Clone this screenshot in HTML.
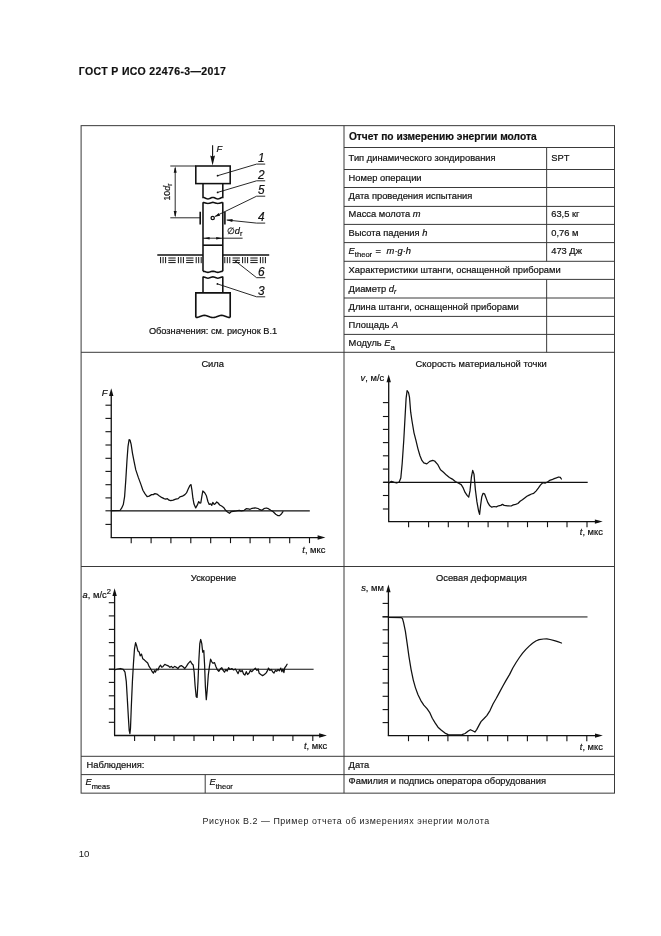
<!DOCTYPE html>
<html lang="ru">
<head>
<meta charset="utf-8">
<title>ГОСТ Р ИСО 22476-3—2017</title>
<style>
html,body{margin:0;padding:0;background:#fff;}
body{width:661px;height:936px;position:relative;overflow:hidden;font-family:"Liberation Sans",sans-serif;color:#111;}
#page{position:absolute;left:0;top:0;width:661px;height:936px;will-change:transform;filter:grayscale(1);}
.t{position:absolute;white-space:nowrap;font-size:9.35px;color:#111;-webkit-text-stroke:0.2px #111;}
.t i{font-style:italic;}
.sub{position:relative;}
svg{position:absolute;left:0;top:0;}
svg text{font-family:"Liberation Sans",sans-serif;fill:#111;stroke:#111;stroke-width:0.2px;}
</style>
</head>
<body>
<div id="page">
<svg width="661" height="936" viewBox="0 0 661 936">
<rect x="81.1" y="125.65" width="533.4" height="667.5" fill="none" stroke="#3a3a3a" stroke-width="1.0"/>
<line x1="344.0" y1="125.65" x2="344.0" y2="793.15" stroke="#3a3a3a" stroke-width="1.0"/>
<line x1="344.0" y1="147.5" x2="614.5" y2="147.5" stroke="#3a3a3a" stroke-width="1.0"/>
<line x1="344.0" y1="169.5" x2="614.5" y2="169.5" stroke="#3a3a3a" stroke-width="1.0"/>
<line x1="344.0" y1="187.5" x2="614.5" y2="187.5" stroke="#3a3a3a" stroke-width="1.0"/>
<line x1="344.0" y1="206.4" x2="614.5" y2="206.4" stroke="#3a3a3a" stroke-width="1.0"/>
<line x1="344.0" y1="224.4" x2="614.5" y2="224.4" stroke="#3a3a3a" stroke-width="1.0"/>
<line x1="344.0" y1="242.6" x2="614.5" y2="242.6" stroke="#3a3a3a" stroke-width="1.0"/>
<line x1="344.0" y1="261.3" x2="614.5" y2="261.3" stroke="#3a3a3a" stroke-width="1.0"/>
<line x1="344.0" y1="279.4" x2="614.5" y2="279.4" stroke="#3a3a3a" stroke-width="1.0"/>
<line x1="344.0" y1="298.0" x2="614.5" y2="298.0" stroke="#3a3a3a" stroke-width="1.0"/>
<line x1="344.0" y1="316.4" x2="614.5" y2="316.4" stroke="#3a3a3a" stroke-width="1.0"/>
<line x1="344.0" y1="334.4" x2="614.5" y2="334.4" stroke="#3a3a3a" stroke-width="1.0"/>
<line x1="81.1" y1="352.3" x2="614.5" y2="352.3" stroke="#3a3a3a" stroke-width="1.0"/>
<line x1="81.1" y1="566.5" x2="614.5" y2="566.5" stroke="#3a3a3a" stroke-width="1.0"/>
<line x1="81.1" y1="756.3" x2="614.5" y2="756.3" stroke="#3a3a3a" stroke-width="1.0"/>
<line x1="81.1" y1="774.6" x2="614.5" y2="774.6" stroke="#3a3a3a" stroke-width="1.0"/>
<line x1="546.65" y1="147.5" x2="546.65" y2="261.3" stroke="#3a3a3a" stroke-width="1.0"/>
<line x1="546.65" y1="279.4" x2="546.65" y2="352.3" stroke="#3a3a3a" stroke-width="1.0"/>
<line x1="205.2" y1="774.6" x2="205.2" y2="793.15" stroke="#3a3a3a" stroke-width="1.0"/>
<line x1="111.25" y1="392.2" x2="111.25" y2="537.55" stroke="#111" stroke-width="1.3"/>
<line x1="110.65" y1="537.55" x2="321.4" y2="537.55" stroke="#111" stroke-width="1.3"/>
<polygon points="111.25,388.2 109.05,396.0 113.45,396.0" fill="#111"/>
<polygon points="325.4,537.55 317.59999999999997,535.3499999999999 317.59999999999997,539.75" fill="#111"/>
<line x1="105.45" y1="405.2" x2="111.25" y2="405.2" stroke="#111" stroke-width="1.1"/>
<line x1="105.45" y1="418.4" x2="111.25" y2="418.4" stroke="#111" stroke-width="1.1"/>
<line x1="105.45" y1="431.7" x2="111.25" y2="431.7" stroke="#111" stroke-width="1.1"/>
<line x1="105.45" y1="445.0" x2="111.25" y2="445.0" stroke="#111" stroke-width="1.1"/>
<line x1="105.45" y1="458.3" x2="111.25" y2="458.3" stroke="#111" stroke-width="1.1"/>
<line x1="105.45" y1="471.4" x2="111.25" y2="471.4" stroke="#111" stroke-width="1.1"/>
<line x1="105.45" y1="484.7" x2="111.25" y2="484.7" stroke="#111" stroke-width="1.1"/>
<line x1="105.45" y1="497.9" x2="111.25" y2="497.9" stroke="#111" stroke-width="1.1"/>
<line x1="105.45" y1="510.8" x2="111.25" y2="510.8" stroke="#111" stroke-width="1.1"/>
<line x1="105.45" y1="524.4" x2="111.25" y2="524.4" stroke="#111" stroke-width="1.1"/>
<line x1="131.2" y1="537.55" x2="131.2" y2="543.15" stroke="#111" stroke-width="1.1"/>
<line x1="151.1" y1="537.55" x2="151.1" y2="543.15" stroke="#111" stroke-width="1.1"/>
<line x1="170.9" y1="537.55" x2="170.9" y2="543.15" stroke="#111" stroke-width="1.1"/>
<line x1="190.8" y1="537.55" x2="190.8" y2="543.15" stroke="#111" stroke-width="1.1"/>
<line x1="210.7" y1="537.55" x2="210.7" y2="543.15" stroke="#111" stroke-width="1.1"/>
<line x1="230.5" y1="537.55" x2="230.5" y2="543.15" stroke="#111" stroke-width="1.1"/>
<line x1="250.1" y1="537.55" x2="250.1" y2="543.15" stroke="#111" stroke-width="1.1"/>
<line x1="269.8" y1="537.55" x2="269.8" y2="543.15" stroke="#111" stroke-width="1.1"/>
<line x1="289.7" y1="537.55" x2="289.7" y2="543.15" stroke="#111" stroke-width="1.1"/>
<line x1="309.5" y1="537.55" x2="309.5" y2="543.15" stroke="#111" stroke-width="1.1"/>
<line x1="111.0" y1="510.8" x2="309.8" y2="510.8" stroke="#111" stroke-width="1.35"/>
<polyline points="111.3,510.7 120.0,510.5 121.6,508.2 123.3,504.6 124.6,496.6 125.8,479.9 127.0,460.0 128.0,446.6 129.1,439.7 130.0,440.0 131.1,444.1 132.5,453.3 134.1,461.6 135.8,469.9 138.3,477.4 140.8,484.1 142.9,490.2 144.9,493.6 147.1,496.6 149.1,496.1 151.6,494.6 153.3,494.6 154.9,493.6 156.9,494.1 159.1,495.7 161.6,497.4 164.1,498.6 165.7,499.2 167.4,498.7 169.1,500.2 170.7,500.7 173.2,500.2 175.7,499.2 178.2,498.6 179.9,496.9 182.4,496.2 184.9,494.6 186.5,492.9 188.2,489.1 189.9,485.4 191.0,484.6 191.9,489.9 192.9,498.2 194.0,504.1 195.7,507.9 197.4,504.9 198.7,501.6 199.9,503.2 200.8,502.9 201.8,496.6 202.8,491.0 204.7,492.8 206.4,495.8 207.9,501.5 209.2,504.4 210.8,503.8 211.8,505.4 212.8,502.4 214.2,504.4 215.3,503.8 216.7,501.9 218.1,503.0 219.7,505.0 221.6,506.0 223.6,507.4 225.6,510.3 227.5,511.9 229.5,513.3 231.1,511.7 233.4,511.3 236.4,510.9 239.3,510.3 241.3,510.9 244.2,510.3 246.2,508.7 248.2,508.9 250.1,509.3 252.1,508.3 255.1,507.8 258.0,508.5 260.0,509.7 261.9,510.3 263.9,508.7 266.3,508.0 268.4,508.7 270.8,510.3 273.2,511.7 275.7,514.2 277.7,515.6 279.6,515.6 281.6,513.7 283.0,511.7" fill="none" stroke="#111" stroke-width="1.25" stroke-linejoin="round" stroke-linecap="round"/>
<text x="212.7" y="366.6" font-size="9.35" text-anchor="middle" >Сила</text>
<text x="101.7" y="396.2" font-size="9.35" font-style="italic" text-anchor="start" >F</text>
<text x="302.3" y="552.9" font-size="9.35" text-anchor="start" ><tspan font-style="italic">t</tspan>, мкс</text>
<line x1="388.7" y1="378.4" x2="388.7" y2="521.6" stroke="#111" stroke-width="1.3"/>
<line x1="388.09999999999997" y1="521.6" x2="598.7" y2="521.6" stroke="#111" stroke-width="1.3"/>
<polygon points="388.7,374.4 386.5,382.2 390.9,382.2" fill="#111"/>
<polygon points="602.7,521.6 594.9000000000001,519.4 594.9000000000001,523.8000000000001" fill="#111"/>
<line x1="382.9" y1="402.6" x2="388.7" y2="402.6" stroke="#111" stroke-width="1.1"/>
<line x1="382.9" y1="416.5" x2="388.7" y2="416.5" stroke="#111" stroke-width="1.1"/>
<line x1="382.9" y1="429.4" x2="388.7" y2="429.4" stroke="#111" stroke-width="1.1"/>
<line x1="382.9" y1="442.6" x2="388.7" y2="442.6" stroke="#111" stroke-width="1.1"/>
<line x1="382.9" y1="455.8" x2="388.7" y2="455.8" stroke="#111" stroke-width="1.1"/>
<line x1="382.9" y1="469.1" x2="388.7" y2="469.1" stroke="#111" stroke-width="1.1"/>
<line x1="382.9" y1="482.3" x2="388.7" y2="482.3" stroke="#111" stroke-width="1.1"/>
<line x1="382.9" y1="495.5" x2="388.7" y2="495.5" stroke="#111" stroke-width="1.1"/>
<line x1="382.9" y1="509.0" x2="388.7" y2="509.0" stroke="#111" stroke-width="1.1"/>
<line x1="408.6" y1="521.6" x2="408.6" y2="527.2" stroke="#111" stroke-width="1.1"/>
<line x1="428.6" y1="521.6" x2="428.6" y2="527.2" stroke="#111" stroke-width="1.1"/>
<line x1="448.3" y1="521.6" x2="448.3" y2="527.2" stroke="#111" stroke-width="1.1"/>
<line x1="468.3" y1="521.6" x2="468.3" y2="527.2" stroke="#111" stroke-width="1.1"/>
<line x1="488.1" y1="521.6" x2="488.1" y2="527.2" stroke="#111" stroke-width="1.1"/>
<line x1="507.9" y1="521.6" x2="507.9" y2="527.2" stroke="#111" stroke-width="1.1"/>
<line x1="527.5" y1="521.6" x2="527.5" y2="527.2" stroke="#111" stroke-width="1.1"/>
<line x1="547.5" y1="521.6" x2="547.5" y2="527.2" stroke="#111" stroke-width="1.1"/>
<line x1="567.0" y1="521.6" x2="567.0" y2="527.2" stroke="#111" stroke-width="1.1"/>
<line x1="587.0" y1="521.6" x2="587.0" y2="527.2" stroke="#111" stroke-width="1.1"/>
<line x1="383.4" y1="482.3" x2="587.7" y2="482.3" stroke="#111" stroke-width="1.2"/>
<polyline points="388.8,483.0 391.4,481.4 394.3,482.4 396.7,483.0 399.2,482.0 400.8,478.1 402.2,463.3 403.8,439.7 405.1,416.1 406.1,398.4 407.1,390.6 408.5,392.5 409.5,397.4 410.7,412.2 412.0,421.0 414.0,432.8 416.0,440.7 417.9,448.6 419.9,455.5 421.9,460.4 423.8,462.9 426.8,463.9 429.7,461.4 432.7,460.4 434.6,461.0 437.6,464.3 440.5,469.8 443.5,472.2 446.4,475.1 449.4,477.5 452.3,479.1 455.3,481.6 458.2,483.0 461.2,484.6 463.2,487.9 465.1,492.4 467.1,495.4 468.7,497.2 470.0,490.9 471.4,477.1 472.7,470.4 474.0,474.1 475.4,489.9 476.9,501.7 478.5,510.5 479.6,514.4 480.5,506.2 481.8,496.7 483.1,493.3 484.5,493.8 486.1,497.9 487.7,502.4 489.5,505.4 491.8,507.2 494.0,506.5 496.3,506.9 498.6,505.8 500.8,505.4 502.4,504.4 504.2,505.4 507.7,505.8 511.1,506.0 513.3,504.9 515.6,504.4 517.9,503.5 520.1,501.3 522.4,499.7 524.7,497.9 526.9,496.3 529.2,495.1 531.5,494.0 533.7,493.3 536.0,491.1 538.3,488.1 540.6,484.9 542.8,482.7 545.1,483.1 547.4,482.0 549.6,480.4 551.9,479.7 554.2,478.6 556.4,477.9 558.7,477.0 560.3,477.4 561.4,479.0" fill="none" stroke="#111" stroke-width="1.25" stroke-linejoin="round" stroke-linecap="round"/>
<text x="481.2" y="366.6" font-size="9.35" text-anchor="middle" >Скорость материальной точки</text>
<text x="360.6" y="381.2" font-size="9.35" text-anchor="start" ><tspan font-style="italic">v</tspan>, м/с</text>
<text x="579.8" y="535.3" font-size="9.35" text-anchor="start" ><tspan font-style="italic">t</tspan>, мкс</text>
<line x1="114.6" y1="592.2" x2="114.6" y2="735.5" stroke="#111" stroke-width="1.3"/>
<line x1="114.0" y1="735.5" x2="322.9" y2="735.5" stroke="#111" stroke-width="1.3"/>
<polygon points="114.6,588.2 112.39999999999999,596.0 116.8,596.0" fill="#111"/>
<polygon points="326.9,735.5 319.09999999999997,733.3 319.09999999999997,737.7" fill="#111"/>
<line x1="108.8" y1="602.7" x2="114.6" y2="602.7" stroke="#111" stroke-width="1.1"/>
<line x1="108.8" y1="615.9" x2="114.6" y2="615.9" stroke="#111" stroke-width="1.1"/>
<line x1="108.8" y1="629.4" x2="114.6" y2="629.4" stroke="#111" stroke-width="1.1"/>
<line x1="108.8" y1="642.6" x2="114.6" y2="642.6" stroke="#111" stroke-width="1.1"/>
<line x1="108.8" y1="655.8" x2="114.6" y2="655.8" stroke="#111" stroke-width="1.1"/>
<line x1="108.8" y1="669.2" x2="114.6" y2="669.2" stroke="#111" stroke-width="1.1"/>
<line x1="108.8" y1="682.4" x2="114.6" y2="682.4" stroke="#111" stroke-width="1.1"/>
<line x1="108.8" y1="695.8" x2="114.6" y2="695.8" stroke="#111" stroke-width="1.1"/>
<line x1="108.8" y1="708.9" x2="114.6" y2="708.9" stroke="#111" stroke-width="1.1"/>
<line x1="108.8" y1="722.3" x2="114.6" y2="722.3" stroke="#111" stroke-width="1.1"/>
<line x1="134.6" y1="735.5" x2="134.6" y2="741.1" stroke="#111" stroke-width="1.1"/>
<line x1="154.7" y1="735.5" x2="154.7" y2="741.1" stroke="#111" stroke-width="1.1"/>
<line x1="174.0" y1="735.5" x2="174.0" y2="741.1" stroke="#111" stroke-width="1.1"/>
<line x1="194.0" y1="735.5" x2="194.0" y2="741.1" stroke="#111" stroke-width="1.1"/>
<line x1="213.6" y1="735.5" x2="213.6" y2="741.1" stroke="#111" stroke-width="1.1"/>
<line x1="233.6" y1="735.5" x2="233.6" y2="741.1" stroke="#111" stroke-width="1.1"/>
<line x1="253.3" y1="735.5" x2="253.3" y2="741.1" stroke="#111" stroke-width="1.1"/>
<line x1="273.2" y1="735.5" x2="273.2" y2="741.1" stroke="#111" stroke-width="1.1"/>
<line x1="292.9" y1="735.5" x2="292.9" y2="741.1" stroke="#111" stroke-width="1.1"/>
<line x1="312.8" y1="735.5" x2="312.8" y2="741.1" stroke="#111" stroke-width="1.1"/>
<line x1="109.0" y1="669.2" x2="313.6" y2="669.2" stroke="#111" stroke-width="1.05"/>
<polyline points="114.6,670.0 117.4,669.0 120.5,668.5 123.3,669.4 125.0,672.1 126.3,681.7 127.3,698.6 128.4,717.7 129.2,730.4 129.9,733.6 130.5,728.3 131.3,707.1 132.4,681.7 133.5,662.6 134.5,648.8 135.6,642.7 136.6,645.7 137.9,651.0 139.2,652.0 140.2,655.8 141.5,654.1 142.8,658.8 144.5,660.1 146.0,661.5 147.7,663.0 149.1,666.4 150.8,669.0 152.1,671.5 153.4,673.2 154.4,670.7 155.5,672.1 156.8,669.0 158.0,670.0 159.3,666.8 160.6,665.2 161.8,667.3 163.1,666.4 164.8,664.3 166.5,665.2 168.2,665.8 169.9,667.3 171.4,666.4 172.9,667.9 174.6,666.4 176.3,667.3 177.9,668.5 179.6,666.4 181.3,665.6 183.0,666.8 184.7,668.5 186.4,666.4 188.1,663.7 190.4,661.1 191.9,663.7 193.2,665.0 194.2,672.5 195.1,685.8 196.2,696.8 197.1,697.4 198.0,681.5 198.9,659.5 199.8,643.7 200.7,639.5 201.8,643.7 202.7,652.2 203.8,650.5 204.6,665.0 205.4,687.0 206.3,699.6 207.2,690.2 208.3,675.0 209.4,666.6 210.6,659.2 211.8,661.8 213.1,663.3 214.5,662.6 215.9,666.5 217.2,669.5 218.8,671.3 220.4,668.8 221.8,667.7 223.1,670.4 224.5,672.2 225.9,669.5 227.2,671.1 228.6,667.7 229.9,669.5 231.8,668.6 233.6,669.9 235.4,669.0 237.0,671.7 238.1,673.6 239.5,669.9 240.8,671.7 242.2,670.4 243.6,674.0 244.9,675.1 246.3,671.7 247.6,674.5 249.0,673.1 250.4,670.4 251.7,671.7 253.5,669.9 255.4,668.1 256.9,670.4 258.1,668.8 259.2,673.3 260.8,674.5 262.6,675.6 264.4,674.5 266.2,672.9 267.6,670.4 268.5,668.1 269.9,670.4 271.2,669.5 272.6,671.7 274.0,673.1 275.3,670.4 276.7,671.3 278.0,669.5 279.4,670.8 280.8,668.1 281.9,671.7 283.0,668.8 283.9,672.6 284.8,667.7 285.8,666.5 287.1,664.2" fill="none" stroke="#111" stroke-width="1.25" stroke-linejoin="round" stroke-linecap="round"/>
<text x="213.5" y="581.4" font-size="9.35" text-anchor="middle" >Ускорение</text>
<text x="82.6" y="598.2" font-size="9.35" text-anchor="start" ><tspan font-style="italic">a</tspan>, м/с<tspan font-size="7.5" dy="-4">2</tspan></text>
<text x="304.0" y="749.3" font-size="9.35" text-anchor="start" ><tspan font-style="italic">t</tspan>, мкс</text>
<line x1="388.4" y1="588.4" x2="388.4" y2="735.6" stroke="#111" stroke-width="1.3"/>
<line x1="387.79999999999995" y1="735.6" x2="598.8" y2="735.6" stroke="#111" stroke-width="1.3"/>
<polygon points="388.4,584.4 386.2,592.1999999999999 390.59999999999997,592.1999999999999" fill="#111"/>
<polygon points="602.8,735.6 595.0,733.4 595.0,737.8000000000001" fill="#111"/>
<line x1="382.59999999999997" y1="603.4" x2="388.4" y2="603.4" stroke="#111" stroke-width="1.1"/>
<line x1="382.59999999999997" y1="616.7" x2="388.4" y2="616.7" stroke="#111" stroke-width="1.1"/>
<line x1="382.59999999999997" y1="629.8" x2="388.4" y2="629.8" stroke="#111" stroke-width="1.1"/>
<line x1="382.59999999999997" y1="643.1" x2="388.4" y2="643.1" stroke="#111" stroke-width="1.1"/>
<line x1="382.59999999999997" y1="656.4" x2="388.4" y2="656.4" stroke="#111" stroke-width="1.1"/>
<line x1="382.59999999999997" y1="669.4" x2="388.4" y2="669.4" stroke="#111" stroke-width="1.1"/>
<line x1="382.59999999999997" y1="683.0" x2="388.4" y2="683.0" stroke="#111" stroke-width="1.1"/>
<line x1="382.59999999999997" y1="696.3" x2="388.4" y2="696.3" stroke="#111" stroke-width="1.1"/>
<line x1="382.59999999999997" y1="709.6" x2="388.4" y2="709.6" stroke="#111" stroke-width="1.1"/>
<line x1="382.59999999999997" y1="722.6" x2="388.4" y2="722.6" stroke="#111" stroke-width="1.1"/>
<line x1="408.5" y1="735.6" x2="408.5" y2="741.2" stroke="#111" stroke-width="1.1"/>
<line x1="428.5" y1="735.6" x2="428.5" y2="741.2" stroke="#111" stroke-width="1.1"/>
<line x1="447.9" y1="735.6" x2="447.9" y2="741.2" stroke="#111" stroke-width="1.1"/>
<line x1="467.9" y1="735.6" x2="467.9" y2="741.2" stroke="#111" stroke-width="1.1"/>
<line x1="487.7" y1="735.6" x2="487.7" y2="741.2" stroke="#111" stroke-width="1.1"/>
<line x1="507.7" y1="735.6" x2="507.7" y2="741.2" stroke="#111" stroke-width="1.1"/>
<line x1="527.4" y1="735.6" x2="527.4" y2="741.2" stroke="#111" stroke-width="1.1"/>
<line x1="547.0" y1="735.6" x2="547.0" y2="741.2" stroke="#111" stroke-width="1.1"/>
<line x1="566.9" y1="735.6" x2="566.9" y2="741.2" stroke="#111" stroke-width="1.1"/>
<line x1="586.8" y1="735.6" x2="586.8" y2="741.2" stroke="#111" stroke-width="1.1"/>
<line x1="382.5" y1="616.95" x2="587.5" y2="616.95" stroke="#111" stroke-width="1.0"/>
<polyline points="388.4,617.5 401.4,617.7 402.5,618.6 403.6,622.6 405.4,631.4 407.1,643.1 409.0,656.8 411.1,669.6 413.3,680.1 415.4,687.6 417.9,694.5 420.7,700.3 423.8,705.1 427.0,708.7 429.6,712.3 432.3,718.3 435.1,722.9 438.0,727.2 441.4,730.3 445.0,733.1 448.2,734.6 452.4,734.8 457.7,734.8 462.0,734.6 465.1,733.5 468.3,731.0 470.4,729.7 472.6,730.8 474.9,732.0 476.7,729.6 478.8,725.6 481.0,721.6 483.8,718.8 486.8,715.6 490.0,710.6 493.0,704.0 496.3,698.3 499.6,692.1 502.9,686.0 506.2,680.1 509.5,674.6 512.8,668.0 516.1,662.5 519.4,657.5 522.6,653.1 525.9,649.4 529.2,646.1 532.5,643.2 535.8,641.0 539.1,639.7 543.5,639.0 546.8,638.8 550.1,639.5 554.4,640.6 557.7,641.7 561.5,643.0" fill="none" stroke="#111" stroke-width="1.25" stroke-linejoin="round" stroke-linecap="round"/>
<text x="481.4" y="580.7" font-size="9.35" text-anchor="middle" >Осевая деформация</text>
<text x="361.2" y="590.6" font-size="9.35" text-anchor="start" ><tspan font-style="italic">s</tspan>, мм</text>
<text x="579.8" y="749.5" font-size="9.35" text-anchor="start" ><tspan font-style="italic">t</tspan>, мкс</text>
<line x1="212.6" y1="145.2" x2="212.6" y2="160" stroke="#111" stroke-width="1.1"/>
<polygon points="212.6,165.6 210.2,155.4 212.6,156.4 215.0,155.4" fill="#111"/>
<text x="216.4" y="151.8" font-size="9.3" font-style="italic" text-anchor="start" >F</text>
<rect x="195.8" y="166.0" width="34.4" height="17.6" fill="none" stroke="#111" stroke-width="1.55"/>
<path d="M 203.00,183.60 L 203.00,197.40 L 203.00,197.50 L 203.82,197.59 L 204.65,197.85 L 205.47,198.20 L 206.30,198.55 L 207.12,198.81 L 207.95,198.90 L 208.78,198.81 L 209.60,198.55 L 210.43,198.20 L 211.25,197.85 L 212.08,197.59 L 212.90,197.50 L 213.72,197.59 L 214.55,197.85 L 215.38,198.20 L 216.20,198.55 L 217.03,198.81 L 217.85,198.90 L 218.68,198.81 L 219.50,198.55 L 220.33,198.20 L 221.15,197.85 L 221.98,197.59 L 222.80,197.50 L 222.80,197.40 L 222.80,183.60" fill="none" stroke="#111" stroke-width="1.55" stroke-linejoin="miter"/>
<path d="M 203.00,271.20 L 203.00,202.30 L 203.00,202.40 L 203.82,202.47 L 204.65,202.65 L 205.47,202.90 L 206.30,203.15 L 207.12,203.33 L 207.95,203.40 L 208.78,203.33 L 209.60,203.15 L 210.43,202.90 L 211.25,202.65 L 212.08,202.47 L 212.90,202.40 L 213.72,202.47 L 214.55,202.65 L 215.38,202.90 L 216.20,203.15 L 217.03,203.33 L 217.85,203.40 L 218.68,203.33 L 219.50,203.15 L 220.33,202.90 L 221.15,202.65 L 221.98,202.47 L 222.80,202.40 L 222.80,202.30 L 222.80,271.20" fill="none" stroke="#111" stroke-width="1.55" stroke-linejoin="miter"/>
<path d="M 203.00,271.30 L 203.82,271.37 L 204.65,271.56 L 205.47,271.82 L 206.30,272.09 L 207.12,272.28 L 207.95,272.35 L 208.78,272.28 L 209.60,272.09 L 210.43,271.82 L 211.25,271.56 L 212.08,271.37 L 212.90,271.30 L 213.72,271.37 L 214.55,271.56 L 215.38,271.82 L 216.20,272.09 L 217.03,272.28 L 217.85,272.35 L 218.68,272.28 L 219.50,272.09 L 220.33,271.82 L 221.15,271.56 L 221.98,271.37 L 222.80,271.30" fill="none" stroke="#111" stroke-width="1.55" stroke-linejoin="miter"/>
<line x1="203.0" y1="245.2" x2="222.8" y2="245.2" stroke="#111" stroke-width="1.6"/>
<path d="M 203.00,292.60 L 203.00,276.60 L 203.00,276.80 L 203.82,276.89 L 204.65,277.15 L 205.47,277.50 L 206.30,277.85 L 207.12,278.11 L 207.95,278.20 L 208.78,278.11 L 209.60,277.85 L 210.43,277.50 L 211.25,277.15 L 212.08,276.89 L 212.90,276.80 L 213.72,276.89 L 214.55,277.15 L 215.38,277.50 L 216.20,277.85 L 217.03,278.11 L 217.85,278.20 L 218.68,278.11 L 219.50,277.85 L 220.33,277.50 L 221.15,277.15 L 221.98,276.89 L 222.80,276.80 L 222.80,276.60 L 222.80,292.60" fill="none" stroke="#111" stroke-width="1.55" stroke-linejoin="miter"/>
<path d="M 195.80,317.50 L 195.80,292.80 L 230.20,292.80 L 230.20,317.50" fill="none" stroke="#111" stroke-width="1.6500000000000001" stroke-linejoin="miter"/>
<path d="M 195.80,317.50 L 197.23,317.36 L 198.67,316.98 L 200.10,316.45 L 201.53,315.93 L 202.97,315.54 L 204.40,315.40 L 205.83,315.54 L 207.27,315.93 L 208.70,316.45 L 210.13,316.98 L 211.57,317.36 L 213.00,317.50 L 214.43,317.36 L 215.87,316.98 L 217.30,316.45 L 218.73,315.93 L 220.17,315.54 L 221.60,315.40 L 223.03,315.54 L 224.47,315.93 L 225.90,316.45 L 227.33,316.98 L 228.77,317.36 L 230.20,317.50" fill="none" stroke="#111" stroke-width="1.55" stroke-linejoin="miter"/>
<line x1="200.2" y1="211.8" x2="200.2" y2="224.4" stroke="#111" stroke-width="1.6"/>
<line x1="224.9" y1="211.8" x2="224.9" y2="224.4" stroke="#111" stroke-width="1.6"/>
<circle cx="212.7" cy="218.0" r="1.65" fill="#fff" stroke="#111" stroke-width="1.3"/>
<line x1="170.3" y1="166.0" x2="195.8" y2="166.0" stroke="#111" stroke-width="0.9"/>
<line x1="170.3" y1="217.8" x2="200.2" y2="217.8" stroke="#111" stroke-width="0.9"/>
<line x1="175.2" y1="168" x2="175.2" y2="216" stroke="#111" stroke-width="0.9"/>
<polygon points="175.2,166.2 173.7,172.8 176.7,172.8" fill="#111"/>
<polygon points="175.2,217.6 173.7,211.0 176.7,211.0" fill="#111"/>
<text transform="translate(169.6,200.6) rotate(-90)" font-size="8.8">10<tspan font-style="italic">d</tspan><tspan font-size="7.4" dy="2.2">r</tspan></text>
<line x1="203.0" y1="238.2" x2="242.6" y2="238.2" stroke="#111" stroke-width="0.9"/>
<polygon points="203.6,238.2 209.6,236.9 209.6,239.5" fill="#111"/>
<polygon points="222.2,238.2 216.2,236.9 216.2,239.5" fill="#111"/>
<text x="226.8" y="234.3" font-size="9.2" text-anchor="start" >∅<tspan font-style="italic">d</tspan><tspan font-size="7.2" dy="2">r</tspan></text>
<line x1="157.3" y1="255.0" x2="203.0" y2="255.0" stroke="#111" stroke-width="1.6"/>
<line x1="222.8" y1="255.0" x2="269.2" y2="255.0" stroke="#111" stroke-width="1.6"/>
<line x1="160.6" y1="257.0" x2="160.6" y2="263.2" stroke="#111" stroke-width="1.0"/>
<line x1="163.1" y1="257.0" x2="163.1" y2="263.2" stroke="#111" stroke-width="1.0"/>
<line x1="165.6" y1="257.0" x2="165.6" y2="263.2" stroke="#111" stroke-width="1.0"/>
<line x1="168.29999999999998" y1="258.0" x2="175.7" y2="258.0" stroke="#111" stroke-width="1.0"/>
<line x1="168.29999999999998" y1="260.3" x2="175.7" y2="260.3" stroke="#111" stroke-width="1.0"/>
<line x1="168.29999999999998" y1="262.6" x2="175.7" y2="262.6" stroke="#111" stroke-width="1.0"/>
<line x1="178.39999999999998" y1="257.0" x2="178.39999999999998" y2="263.2" stroke="#111" stroke-width="1.0"/>
<line x1="180.89999999999998" y1="257.0" x2="180.89999999999998" y2="263.2" stroke="#111" stroke-width="1.0"/>
<line x1="183.39999999999998" y1="257.0" x2="183.39999999999998" y2="263.2" stroke="#111" stroke-width="1.0"/>
<line x1="186.09999999999997" y1="258.0" x2="193.49999999999997" y2="258.0" stroke="#111" stroke-width="1.0"/>
<line x1="186.09999999999997" y1="260.3" x2="193.49999999999997" y2="260.3" stroke="#111" stroke-width="1.0"/>
<line x1="186.09999999999997" y1="262.6" x2="193.49999999999997" y2="262.6" stroke="#111" stroke-width="1.0"/>
<line x1="196.19999999999996" y1="257.0" x2="196.19999999999996" y2="263.2" stroke="#111" stroke-width="1.0"/>
<line x1="198.69999999999996" y1="257.0" x2="198.69999999999996" y2="263.2" stroke="#111" stroke-width="1.0"/>
<line x1="201.19999999999996" y1="257.0" x2="201.19999999999996" y2="263.2" stroke="#111" stroke-width="1.0"/>
<line x1="224.8" y1="257.0" x2="224.8" y2="263.2" stroke="#111" stroke-width="1.0"/>
<line x1="227.3" y1="257.0" x2="227.3" y2="263.2" stroke="#111" stroke-width="1.0"/>
<line x1="229.8" y1="257.0" x2="229.8" y2="263.2" stroke="#111" stroke-width="1.0"/>
<line x1="232.5" y1="258.0" x2="239.9" y2="258.0" stroke="#111" stroke-width="1.0"/>
<line x1="232.5" y1="260.3" x2="239.9" y2="260.3" stroke="#111" stroke-width="1.0"/>
<line x1="232.5" y1="262.6" x2="239.9" y2="262.6" stroke="#111" stroke-width="1.0"/>
<line x1="242.6" y1="257.0" x2="242.6" y2="263.2" stroke="#111" stroke-width="1.0"/>
<line x1="245.1" y1="257.0" x2="245.1" y2="263.2" stroke="#111" stroke-width="1.0"/>
<line x1="247.6" y1="257.0" x2="247.6" y2="263.2" stroke="#111" stroke-width="1.0"/>
<line x1="250.29999999999998" y1="258.0" x2="257.7" y2="258.0" stroke="#111" stroke-width="1.0"/>
<line x1="250.29999999999998" y1="260.3" x2="257.7" y2="260.3" stroke="#111" stroke-width="1.0"/>
<line x1="250.29999999999998" y1="262.6" x2="257.7" y2="262.6" stroke="#111" stroke-width="1.0"/>
<line x1="260.4" y1="257.0" x2="260.4" y2="263.2" stroke="#111" stroke-width="1.0"/>
<line x1="262.9" y1="257.0" x2="262.9" y2="263.2" stroke="#111" stroke-width="1.0"/>
<line x1="265.4" y1="257.0" x2="265.4" y2="263.2" stroke="#111" stroke-width="1.0"/>
<line x1="217.6" y1="175.7" x2="256.6" y2="164.1" stroke="#111" stroke-width="0.9"/>
<line x1="256.6" y1="164.1" x2="265.2" y2="164.1" stroke="#111" stroke-width="0.9"/>
<circle cx="217.6" cy="175.7" r="0.9" fill="#111"/>
<text x="261.2" y="162.2" font-size="12.8" font-style="italic" text-anchor="middle" textLength="6.6" lengthAdjust="spacingAndGlyphs">1</text>
<line x1="217.6" y1="192.4" x2="256.6" y2="180.8" stroke="#111" stroke-width="0.9"/>
<line x1="256.6" y1="180.8" x2="265.2" y2="180.8" stroke="#111" stroke-width="0.9"/>
<circle cx="217.6" cy="192.4" r="0.9" fill="#111"/>
<text x="261.2" y="178.9" font-size="12.8" font-style="italic" text-anchor="middle" textLength="6.6" lengthAdjust="spacingAndGlyphs">2</text>
<line x1="215.0" y1="216.4" x2="256.6" y2="196.2" stroke="#111" stroke-width="0.9"/>
<line x1="256.6" y1="196.2" x2="265.2" y2="196.2" stroke="#111" stroke-width="0.9"/>
<text x="261.2" y="194.29999999999998" font-size="12.8" font-style="italic" text-anchor="middle" textLength="6.6" lengthAdjust="spacingAndGlyphs">5</text>
<polygon points="214.7,216.7 218.7,212.9 220.1,215.8" fill="#111"/>
<line x1="226.8" y1="220.0" x2="256.6" y2="223.1" stroke="#111" stroke-width="0.9"/>
<line x1="256.6" y1="223.1" x2="265.2" y2="223.1" stroke="#111" stroke-width="0.9"/>
<text x="261.2" y="221.2" font-size="12.8" font-style="italic" text-anchor="middle" textLength="6.6" lengthAdjust="spacingAndGlyphs">4</text>
<polygon points="226.4,219.9 232.6,219.0 232.3,222.0" fill="#111"/>
<line x1="235.9" y1="261.4" x2="256.6" y2="277.7" stroke="#111" stroke-width="0.9"/>
<line x1="256.6" y1="277.7" x2="265.2" y2="277.7" stroke="#111" stroke-width="0.9"/>
<text x="261.2" y="275.8" font-size="12.8" font-style="italic" text-anchor="middle" textLength="6.6" lengthAdjust="spacingAndGlyphs">6</text>
<line x1="234.6" y1="262.6" x2="237.4" y2="260.0" stroke="#111" stroke-width="1.0"/>
<line x1="217.4" y1="283.9" x2="256.6" y2="296.8" stroke="#111" stroke-width="0.9"/>
<line x1="256.6" y1="296.8" x2="265.2" y2="296.8" stroke="#111" stroke-width="0.9"/>
<circle cx="217.4" cy="283.9" r="0.9" fill="#111"/>
<text x="261.2" y="294.90000000000003" font-size="12.8" font-style="italic" text-anchor="middle" textLength="6.6" lengthAdjust="spacingAndGlyphs">3</text>
</svg>
<div class="t" style="left:78.80px;top:65.24px;font-size:10.5px;line-height:13.65px;font-weight:bold;letter-spacing:0.37px;">ГОСТ Р ИСО 22476-3—2017</div>
<div class="t" style="left:348.90px;top:129.94px;font-size:10.2px;line-height:13.26px;font-weight:bold;letter-spacing:0.02px;">Отчет по измерению энергии молота</div>
<div class="t" style="left:348.60px;top:152.19px;font-size:9.35px;line-height:12.15px;">Тип динамического зондирования</div>
<div class="t" style="left:551.20px;top:151.99px;font-size:9.35px;line-height:12.15px;">SPT</div>
<div class="t" style="left:348.60px;top:171.69px;font-size:9.35px;line-height:12.15px;">Номер операции</div>
<div class="t" style="left:348.60px;top:190.09px;font-size:9.35px;line-height:12.15px;">Дата проведения испытания</div>
<div class="t" style="left:348.60px;top:208.19px;font-size:9.35px;line-height:12.15px;">Масса молота <i>m</i></div>
<div class="t" style="left:551.20px;top:208.29px;font-size:9.35px;line-height:12.15px;">63,5 кг</div>
<div class="t" style="left:348.60px;top:226.59px;font-size:9.35px;line-height:12.15px;">Высота падения <i>h</i></div>
<div class="t" style="left:551.20px;top:226.89px;font-size:9.35px;line-height:12.15px;">0,76 м</div>
<div class="t" style="left:348.60px;top:244.99px;font-size:9.35px;line-height:12.15px;"><i>E</i><span class="sub" style="font-size:7.6px;top:2.7px">theor</span><span style="margin-left:3.4px">=</span><span style="margin-left:5.6px"><i>m·g·h</i></span></div>
<div class="t" style="left:551.20px;top:245.39px;font-size:9.35px;line-height:12.15px;">473 Дж</div>
<div class="t" style="left:348.60px;top:263.89px;font-size:9.35px;line-height:12.15px;">Характеристики штанги, оснащенной приборами</div>
<div class="t" style="left:348.60px;top:282.59px;font-size:9.35px;line-height:12.15px;">Диаметр <i>d</i><span class="sub" style="font-size:6.6px;top:2.9px;font-style:italic">r</span></div>
<div class="t" style="left:348.60px;top:301.19px;font-size:9.35px;line-height:12.15px;">Длина штанги, оснащенной приборами</div>
<div class="t" style="left:348.60px;top:318.99px;font-size:9.35px;line-height:12.15px;">Площадь <i>A</i></div>
<div class="t" style="left:348.60px;top:337.49px;font-size:9.35px;line-height:12.15px;">Модуль <i>E</i><span class="sub" style="font-size:8.1px;top:3.3px">a</span></div>
<div class="t" style="left:86.50px;top:759.19px;font-size:9.35px;line-height:12.15px;">Наблюдения:</div>
<div class="t" style="left:85.40px;top:776.19px;font-size:9.35px;line-height:12.15px;"><i>E</i><span class="sub" style="font-size:7.5px;top:3.7px">meas</span></div>
<div class="t" style="left:209.50px;top:776.19px;font-size:9.35px;line-height:12.15px;"><i>E</i><span class="sub" style="font-size:7.5px;top:3.7px">theor</span></div>
<div class="t" style="left:348.60px;top:758.69px;font-size:9.35px;line-height:12.15px;">Дата</div>
<div class="t" style="left:348.60px;top:775.39px;font-size:9.35px;line-height:12.15px;">Фамилия и подпись оператора оборудования</div>
<div class="t" style="left:148.90px;top:326.01px;font-size:9.22px;line-height:11.99px;">Обозначения: см. рисунок В.1</div>
<div class="t" style="left:202.50px;top:816.23px;font-size:8.9px;line-height:11.57px;letter-spacing:0.56px;-webkit-text-stroke:0;color:#222;">Рисунок В.2 — Пример отчета об измерениях энергии молота</div>
<div class="t" style="left:78.70px;top:848.43px;font-size:9.7px;line-height:12.61px;letter-spacing:-0.2px;-webkit-text-stroke:0;color:#222;">10</div>
</div>
</body>
</html>
